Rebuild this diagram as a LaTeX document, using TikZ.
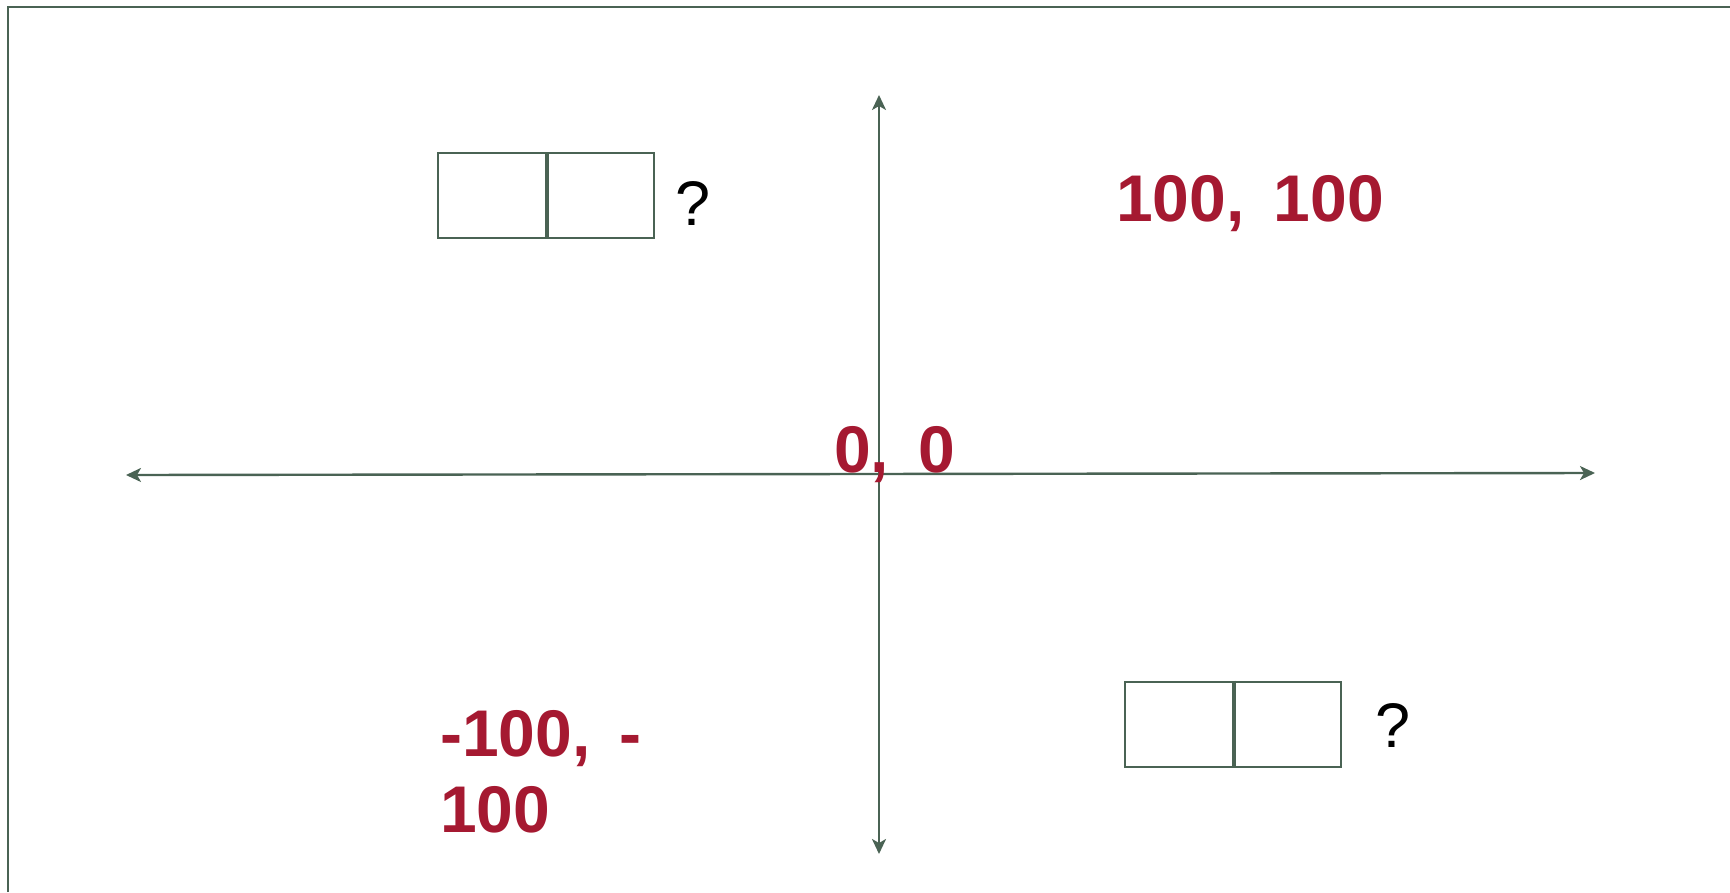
\documentclass[tikz,border=0pt]{standalone}
\usepackage{fontspec}
\setmainfont{Liberation Sans}
\newfontfamily\labelfont{Liberation Sans}[WordSpace=1.6]
\usetikzlibrary{arrows.meta}
\definecolor{linegreen}{HTML}{4A6354}
\definecolor{labelred}{HTML}{A51931}
\begin{document}
\begin{tikzpicture}[x=1pt,y=-1pt,
  axis/.style={draw=linegreen, line width=2.4pt,
    {Stealth[length=15pt,width=14pt,inset=4pt]}-{Stealth[length=15pt,width=14pt,inset=4pt]}},
  coordlabel/.style={text=labelred,
    font=\labelfont\fontsize{66}{76}\selectfont\bfseries,
    inner sep=0pt, anchor=base west, align=left},
  qmark/.style={font=\fontsize{63}{70}\selectfont, inner sep=0pt, anchor=base west},
  cell/.style={draw=linegreen, line width=2pt, minimum width=108pt,
    minimum height=85pt, inner sep=0pt}
]
\useasboundingbox (0,0) rectangle (1730,892);
\draw[draw=linegreen, line width=2.6pt] (8,892) -- (8,7) -- (1730,7);

\coordinate (xl) at (126,475);
\coordinate (xr) at (1595,473);
\coordinate (yt) at (879,95);
\coordinate (yb) at (879,854);
\draw[axis] (xl) -- (xr);
\draw[axis] (yt) -- (yb);

\node[cell] (b1l) at (492,195.5) {};
\node[cell] (b1r) at (599.5,195.5) {};
\draw[draw=linegreen, line width=3.5pt] (b1l.north east) -- (b1l.south east);
\node[qmark] (q1) at (675,225) {?};

\node[cell] (b2l) at (1179,724) {};
\node[cell] (b2r) at (1287,724) {};
\draw[draw=linegreen, line width=3.5pt] (b2l.north east) -- (b2l.south east);
\node[qmark] (q2) at (1375,747) {?};

\node[coordlabel] (l1) at (1116,221) {100, 100};
\node[coordlabel] (l0) at (834,472) {0, 0};
\node[coordlabel] (l3) at (440,832) {-100, -\\100};
\end{tikzpicture}
\end{document}
